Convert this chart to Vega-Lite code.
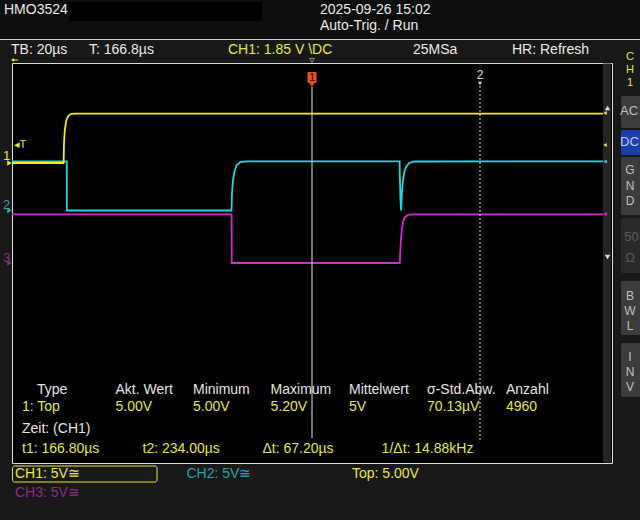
{
  "$schema": "https://vega.github.io/schema/vega-lite/v6.json",
  "width": 600,
  "height": 400,
  "autosize": {"type": "none"},
  "padding": {"left": 12, "top": 63, "right": 28, "bottom": 57},
  "background": "#181818",
  "config": {
    "view": {"fill": "#000000", "stroke": "#dcdcdc", "strokeWidth": 1},
    "axis": {"grid": true, "gridColor": "#343434", "gridWidth": 1, "labels": false, "ticks": false, "domain": false},
    "text": {"font": "Liberation Sans", "fontSize": 14, "baseline": "middle", "align": "left"}
  },
  "datasets": {
    "traces": [
      {"ch": "CH1", "t": 46.8, "v": 0},
      {"ch": "CH1", "t": 67.44, "v": 0},
      {"ch": "CH1", "t": 67.6, "v": 1.97},
      {"ch": "CH1", "t": 67.92, "v": 3.27},
      {"ch": "CH1", "t": 68.52, "v": 4.27},
      {"ch": "CH1", "t": 69.32, "v": 4.72},
      {"ch": "CH1", "t": 70.52, "v": 4.92},
      {"ch": "CH1", "t": 72.12, "v": 4.94},
      {"ch": "CH1", "t": 283.2, "v": 4.94},
      {"ch": "CH2", "t": 46.8, "v": 4.92},
      {"ch": "CH2", "t": 68.7, "v": 4.92},
      {"ch": "CH2", "t": 68.75, "v": 0},
      {"ch": "CH2", "t": 134.6, "v": 0},
      {"ch": "CH2", "t": 134.76, "v": 1.55},
      {"ch": "CH2", "t": 135.12, "v": 2.85},
      {"ch": "CH2", "t": 135.72, "v": 3.85},
      {"ch": "CH2", "t": 136.72, "v": 4.55},
      {"ch": "CH2", "t": 138.12, "v": 4.85},
      {"ch": "CH2", "t": 140.12, "v": 4.92},
      {"ch": "CH2", "t": 201.84, "v": 4.92},
      {"ch": "CH2", "t": 201.92, "v": 3.55},
      {"ch": "CH2", "t": 202.2, "v": 1.05},
      {"ch": "CH2", "t": 202.44, "v": 0},
      {"ch": "CH2", "t": 202.72, "v": 1.55},
      {"ch": "CH2", "t": 203.12, "v": 2.85},
      {"ch": "CH2", "t": 203.72, "v": 3.85},
      {"ch": "CH2", "t": 204.52, "v": 4.4},
      {"ch": "CH2", "t": 205.72, "v": 4.75},
      {"ch": "CH2", "t": 207.72, "v": 4.9},
      {"ch": "CH2", "t": 283.2, "v": 4.92},
      {"ch": "CH3", "t": 46.8, "v": 4.86},
      {"ch": "CH3", "t": 134.64, "v": 4.86},
      {"ch": "CH3", "t": 134.7, "v": 0},
      {"ch": "CH3", "t": 201.92, "v": 0},
      {"ch": "CH3", "t": 202.04, "v": 0.83},
      {"ch": "CH3", "t": 202.32, "v": 2.13},
      {"ch": "CH3", "t": 202.72, "v": 3.33},
      {"ch": "CH3", "t": 203.32, "v": 4.23},
      {"ch": "CH3", "t": 204.12, "v": 4.63},
      {"ch": "CH3", "t": 205.32, "v": 4.81},
      {"ch": "CH3", "t": 206.92, "v": 4.86},
      {"ch": "CH3", "t": 283.2, "v": 4.86}
    ]
  },
  "resolve": {"scale": {"y": "independent"}},
  "layer": [
    {
      "data": {"values": [{}]},
      "layer": [
        {"mark": {"type": "rect", "color": "#0e0e0e"}, "encoding": {"x": {"datum": 42.0, "scale": {"domain": [46.8, 286.8], "nice": false, "zero": false}, "axis": null}, "x2": {"datum": 298.0}, "y": {"datum": 5.26, "scale": {"domain": [-4, 4], "nice": false, "zero": false}, "axis": null}, "y2": {"datum": 4.48}}},
        {"mark": {"type": "rule", "color": "#d0d0d0", "strokeWidth": 1}, "encoding": {"x": {"datum": 42.0, "scale": {"domain": [46.8, 286.8], "nice": false, "zero": false}, "axis": null}, "x2": {"datum": 298.0}, "y": {"datum": 4.47, "scale": {"domain": [-4, 4], "nice": false, "zero": false}, "axis": null}}},
        {"mark": {"type": "rect", "color": "#000000"}, "encoding": {"x": {"datum": 69.6, "scale": {"domain": [46.8, 286.8], "nice": false, "zero": false}, "axis": null}, "x2": {"datum": 146.8}, "y": {"datum": 5.22, "scale": {"domain": [-4, 4], "nice": false, "zero": false}, "axis": null}, "y2": {"datum": 4.84}}},
        {"mark": {"type": "rect", "color": "#242424"}, "encoding": {"x": {"datum": 283.2, "scale": {"domain": [46.8, 286.8], "nice": false, "zero": false}, "axis": {"values": [66.8, 86.8, 106.8, 126.8, 146.8, 166.8, 186.8, 206.8, 226.8, 246.8, 266.8], "title": null}}, "x2": {"datum": 286.4}, "y": {"datum": 3.99, "scale": {"domain": [-4, 4], "nice": false, "zero": false}, "axis": {"values": [-3, -2, -1, 0, 1, 2, 3], "title": null}}, "y2": {"datum": -3.99}}},
        {"mark": {"type": "rect", "color": "#3c3c3c", "cornerRadius": 2}, "encoding": {"x": {"datum": 290.4, "scale": {"domain": [46.8, 286.8], "nice": false, "zero": false}, "axis": null}, "x2": {"datum": 300}, "y": {"datum": 3.34, "scale": {"domain": [-4, 4], "nice": false, "zero": false}, "axis": null}, "y2": {"datum": 2.7}}},
        {"mark": {"type": "rect", "color": "#1d3fae", "cornerRadius": 2}, "encoding": {"x": {"datum": 290.4, "scale": {"domain": [46.8, 286.8], "nice": false, "zero": false}, "axis": null}, "x2": {"datum": 300}, "y": {"datum": 2.66, "scale": {"domain": [-4, 4], "nice": false, "zero": false}, "axis": null}, "y2": {"datum": 2.16}}},
        {"mark": {"type": "rect", "color": "#3c3c3c", "cornerRadius": 2}, "encoding": {"x": {"datum": 290.4, "scale": {"domain": [46.8, 286.8], "nice": false, "zero": false}, "axis": null}, "x2": {"datum": 300}, "y": {"datum": 2.12, "scale": {"domain": [-4, 4], "nice": false, "zero": false}, "axis": null}, "y2": {"datum": 0.96}}},
        {"mark": {"type": "rect", "color": "#2a2a2a", "cornerRadius": 2}, "encoding": {"x": {"datum": 290.4, "scale": {"domain": [46.8, 286.8], "nice": false, "zero": false}, "axis": null}, "x2": {"datum": 300}, "y": {"datum": 0.9, "scale": {"domain": [-4, 4], "nice": false, "zero": false}, "axis": null}, "y2": {"datum": -0.2}}},
        {"mark": {"type": "rect", "color": "#3c3c3c", "cornerRadius": 2}, "encoding": {"x": {"datum": 290.4, "scale": {"domain": [46.8, 286.8], "nice": false, "zero": false}, "axis": null}, "x2": {"datum": 300}, "y": {"datum": -0.36, "scale": {"domain": [-4, 4], "nice": false, "zero": false}, "axis": null}, "y2": {"datum": -1.44}}},
        {"mark": {"type": "rect", "color": "#3c3c3c", "cornerRadius": 2}, "encoding": {"x": {"datum": 290.4, "scale": {"domain": [46.8, 286.8], "nice": false, "zero": false}, "axis": null}, "x2": {"datum": 300}, "y": {"datum": -1.6, "scale": {"domain": [-4, 4], "nice": false, "zero": false}, "axis": null}, "y2": {"datum": -2.68}}}
      ]
    },
    {"data": {"name": "traces"}, "transform": [{"filter": "datum.ch === 'CH3'"}], "mark": {"type": "line", "color": "#d22ad2", "strokeWidth": 1.8}, "encoding": {"x": {"field": "t", "type": "quantitative", "scale": {"domain": [46.8, 286.8], "nice": false, "zero": false}, "axis": null}, "y": {"field": "v", "type": "quantitative", "scale": {"domain": [-20, 20], "nice": false, "zero": false}, "axis": null}}},
    {"data": {"name": "traces"}, "transform": [{"filter": "datum.ch === 'CH2'"}], "mark": {"type": "line", "color": "#2ed2da", "strokeWidth": 1.8}, "encoding": {"x": {"field": "t", "type": "quantitative", "scale": {"domain": [46.8, 286.8], "nice": false, "zero": false}, "axis": null}, "y": {"field": "v", "type": "quantitative", "scale": {"domain": [-25.25, 14.75], "nice": false, "zero": false}, "axis": null}}},
    {"data": {"name": "traces"}, "transform": [{"filter": "datum.ch === 'CH1'"}], "mark": {"type": "line", "color": "#ecec2a", "strokeWidth": 1.8}, "encoding": {"x": {"field": "t", "type": "quantitative", "scale": {"domain": [46.8, 286.8], "nice": false, "zero": false}, "axis": null}, "y": {"field": "v", "type": "quantitative", "scale": {"domain": [-30, 10], "nice": false, "zero": false}, "axis": null}}},
    {
      "data": {"values": [{}]},
      "layer": [
        {"mark": {"type": "rule", "color": "#e8e8e8", "strokeWidth": 1}, "encoding": {"x": {"datum": 166.8, "scale": {"domain": [46.8, 286.8], "nice": false, "zero": false}, "axis": null}, "y": {"datum": 3.52, "scale": {"domain": [-4, 4], "nice": false, "zero": false}, "axis": null}, "y2": {"datum": -3.5}}},
        {"mark": {"type": "rule", "color": "#e8e8e8", "strokeWidth": 1, "strokeDash": [2, 2]}, "encoding": {"x": {"datum": 234.0, "scale": {"domain": [46.8, 286.8], "nice": false, "zero": false}, "axis": null}, "y": {"datum": 3.54, "scale": {"domain": [-4, 4], "nice": false, "zero": false}, "axis": null}, "y2": {"datum": -3.54}}},
        {"mark": {"type": "rect", "color": "#e8521e", "cornerRadius": 1}, "encoding": {"x": {"datum": 165.0, "scale": {"domain": [46.8, 286.8], "nice": false, "zero": false}, "axis": null}, "x2": {"datum": 168.6}, "y": {"datum": 3.82, "scale": {"domain": [-4, 4], "nice": false, "zero": false}, "axis": null}, "y2": {"datum": 3.6}}},
        {"mark": {"type": "point", "shape": "triangle-down", "filled": true, "color": "#e8521e", "size": 40, "opacity": 1}, "encoding": {"x": {"datum": 166.8, "scale": {"domain": [46.8, 286.8], "nice": false, "zero": false}, "axis": null}, "y": {"datum": 3.57, "scale": {"domain": [-4, 4], "nice": false, "zero": false}, "axis": null}}},
        {"mark": {"type": "text", "color": "#2a0800", "fontSize": 11, "align": "center"}, "encoding": {"x": {"datum": 166.8, "scale": {"domain": [46.8, 286.8], "nice": false, "zero": false}, "axis": null}, "y": {"datum": 3.71, "scale": {"domain": [-4, 4], "nice": false, "zero": false}, "axis": null}, "text": {"value": "1"}}},
        {"mark": {"type": "text", "color": "#e0e0e0", "fontSize": 12, "align": "center"}, "encoding": {"x": {"datum": 234.0, "scale": {"domain": [46.8, 286.8], "nice": false, "zero": false}, "axis": null}, "y": {"datum": 3.76, "scale": {"domain": [-4, 4], "nice": false, "zero": false}, "axis": null}, "text": {"value": "2"}}},
        {"mark": {"type": "point", "shape": "triangle-down", "filled": true, "color": "#e0e0e0", "size": 18, "opacity": 1}, "encoding": {"x": {"datum": 234.0, "scale": {"domain": [46.8, 286.8], "nice": false, "zero": false}, "axis": null}, "y": {"datum": 3.59, "scale": {"domain": [-4, 4], "nice": false, "zero": false}, "axis": null}}},
        {"mark": {"type": "point", "shape": "triangle-down", "filled": false, "color": "#8a8a8a", "size": 22, "opacity": 1, "strokeWidth": 1}, "encoding": {"x": {"datum": 166.8, "scale": {"domain": [46.8, 286.8], "nice": false, "zero": false}, "axis": null}, "y": {"datum": 4.05, "scale": {"domain": [-4, 4], "nice": false, "zero": false}, "axis": null}}},
        {"mark": {"type": "point", "shape": "triangle-left", "filled": true, "color": "#e6e645", "size": 14, "opacity": 1}, "encoding": {"x": {"datum": 47.0, "scale": {"domain": [46.8, 286.8], "nice": false, "zero": false}, "axis": null}, "y": {"datum": 4.06, "scale": {"domain": [-4, 4], "nice": false, "zero": false}, "axis": null}}},
        {"mark": {"type": "rule", "color": "#e6e645", "strokeWidth": 1}, "encoding": {"x": {"datum": 47.0, "scale": {"domain": [46.8, 286.8], "nice": false, "zero": false}, "axis": null}, "x2": {"datum": 49.2}, "y": {"datum": 4.06, "scale": {"domain": [-4, 4], "nice": false, "zero": false}, "axis": null}}},
        {"mark": {"type": "text", "color": "#e6e645", "fontSize": 11}, "encoding": {"x": {"datum": 47.4, "scale": {"domain": [46.8, 286.8], "nice": false, "zero": false}, "axis": null}, "y": {"datum": 2.36, "scale": {"domain": [-4, 4], "nice": false, "zero": false}, "axis": null}, "text": {"value": "◂T"}}},
        {"mark": {"type": "text", "color": "#e6e645", "fontSize": 13, "align": "center"}, "encoding": {"x": {"datum": 44.6, "scale": {"domain": [46.8, 286.8], "nice": false, "zero": false}, "axis": null}, "y": {"datum": 2.14, "scale": {"domain": [-4, 4], "nice": false, "zero": false}, "axis": null}, "text": {"value": "1"}}},
        {"mark": {"type": "point", "shape": "triangle-right", "filled": true, "color": "#e6e645", "size": 28, "opacity": 1}, "encoding": {"x": {"datum": 45.8, "scale": {"domain": [46.8, 286.8], "nice": false, "zero": false}, "axis": null}, "y": {"datum": 2.0, "scale": {"domain": [-4, 4], "nice": false, "zero": false}, "axis": null}}},
        {"mark": {"type": "text", "color": "#2ba3a8", "fontSize": 13, "align": "center"}, "encoding": {"x": {"datum": 44.6, "scale": {"domain": [46.8, 286.8], "nice": false, "zero": false}, "axis": null}, "y": {"datum": 1.16, "scale": {"domain": [-4, 4], "nice": false, "zero": false}, "axis": null}, "text": {"value": "2"}}},
        {"mark": {"type": "point", "shape": "triangle-right", "filled": true, "color": "#2ba3a8", "size": 28, "opacity": 1}, "encoding": {"x": {"datum": 45.8, "scale": {"domain": [46.8, 286.8], "nice": false, "zero": false}, "axis": null}, "y": {"datum": 1.05, "scale": {"domain": [-4, 4], "nice": false, "zero": false}, "axis": null}}},
        {"mark": {"type": "text", "color": "#8d2b8d", "fontSize": 13, "align": "center"}, "encoding": {"x": {"datum": 44.6, "scale": {"domain": [46.8, 286.8], "nice": false, "zero": false}, "axis": null}, "y": {"datum": 0.1, "scale": {"domain": [-4, 4], "nice": false, "zero": false}, "axis": null}, "text": {"value": "3"}}},
        {"mark": {"type": "point", "shape": "triangle-right", "filled": true, "color": "#8d2b8d", "size": 28, "opacity": 1}, "encoding": {"x": {"datum": 45.8, "scale": {"domain": [46.8, 286.8], "nice": false, "zero": false}, "axis": null}, "y": {"datum": 0.0, "scale": {"domain": [-4, 4], "nice": false, "zero": false}, "axis": null}}},
        {"mark": {"type": "point", "shape": "triangle-up", "filled": true, "color": "#dddddd", "size": 30, "opacity": 1}, "encoding": {"x": {"datum": 285.0, "scale": {"domain": [46.8, 286.8], "nice": false, "zero": false}, "axis": null}, "y": {"datum": 3.1, "scale": {"domain": [-4, 4], "nice": false, "zero": false}, "axis": null}}},
        {"mark": {"type": "point", "shape": "triangle-down", "filled": true, "color": "#dddddd", "size": 30, "opacity": 1}, "encoding": {"x": {"datum": 285.0, "scale": {"domain": [46.8, 286.8], "nice": false, "zero": false}, "axis": null}, "y": {"datum": 0.12, "scale": {"domain": [-4, 4], "nice": false, "zero": false}, "axis": null}}},
        {"mark": {"type": "point", "shape": "triangle-left", "filled": true, "color": "#e6e645", "size": 16, "opacity": 1}, "encoding": {"x": {"datum": 284.0, "scale": {"domain": [46.8, 286.8], "nice": false, "zero": false}, "axis": null}, "y": {"datum": 3.0, "scale": {"domain": [-4, 4], "nice": false, "zero": false}, "axis": null}}},
        {"mark": {"type": "point", "shape": "triangle-left", "filled": true, "color": "#e6e645", "size": 16, "opacity": 1}, "encoding": {"x": {"datum": 284.0, "scale": {"domain": [46.8, 286.8], "nice": false, "zero": false}, "axis": null}, "y": {"datum": 2.36, "scale": {"domain": [-4, 4], "nice": false, "zero": false}, "axis": null}}},
        {"mark": {"type": "point", "shape": "triangle-left", "filled": true, "color": "#2ed2da", "size": 16, "opacity": 1}, "encoding": {"x": {"datum": 284.0, "scale": {"domain": [46.8, 286.8], "nice": false, "zero": false}, "axis": null}, "y": {"datum": 2.03, "scale": {"domain": [-4, 4], "nice": false, "zero": false}, "axis": null}}},
        {"mark": {"type": "point", "shape": "triangle-left", "filled": true, "color": "#d22ad2", "size": 16, "opacity": 1}, "encoding": {"x": {"datum": 284.0, "scale": {"domain": [46.8, 286.8], "nice": false, "zero": false}, "axis": null}, "y": {"datum": 0.98, "scale": {"domain": [-4, 4], "nice": false, "zero": false}, "axis": null}}},

        {"mark": {"type": "text", "color": "#e8e8e8"}, "encoding": {"x": {"datum": 43.6, "scale": {"domain": [46.8, 286.8], "nice": false, "zero": false}, "axis": null}, "y": {"datum": 5.06, "scale": {"domain": [-4, 4], "nice": false, "zero": false}, "axis": null}, "text": {"value": "HMO3524"}}},
        {"mark": {"type": "text", "color": "#e8e8e8"}, "encoding": {"x": {"datum": 170.0, "scale": {"domain": [46.8, 286.8], "nice": false, "zero": false}, "axis": null}, "y": {"datum": 5.06, "scale": {"domain": [-4, 4], "nice": false, "zero": false}, "axis": null}, "text": {"value": "2025-09-26 15:02"}}},
        {"mark": {"type": "text", "color": "#e8e8e8"}, "encoding": {"x": {"datum": 170.0, "scale": {"domain": [46.8, 286.8], "nice": false, "zero": false}, "axis": null}, "y": {"datum": 4.74, "scale": {"domain": [-4, 4], "nice": false, "zero": false}, "axis": null}, "text": {"value": "Auto-Trig. / Run"}}},
        {"mark": {"type": "text", "color": "#e8e8e8"}, "encoding": {"x": {"datum": 46.4, "scale": {"domain": [46.8, 286.8], "nice": false, "zero": false}, "axis": null}, "y": {"datum": 4.26, "scale": {"domain": [-4, 4], "nice": false, "zero": false}, "axis": null}, "text": {"value": "TB: 20µs"}}},
        {"mark": {"type": "text", "color": "#e8e8e8"}, "encoding": {"x": {"datum": 77.6, "scale": {"domain": [46.8, 286.8], "nice": false, "zero": false}, "axis": null}, "y": {"datum": 4.26, "scale": {"domain": [-4, 4], "nice": false, "zero": false}, "axis": null}, "text": {"value": "T: 166.8µs"}}},
        {"mark": {"type": "text", "color": "#e6e645"}, "encoding": {"x": {"datum": 133.2, "scale": {"domain": [46.8, 286.8], "nice": false, "zero": false}, "axis": null}, "y": {"datum": 4.26, "scale": {"domain": [-4, 4], "nice": false, "zero": false}, "axis": null}, "text": {"value": "CH1: 1.85 V \\DC"}}},
        {"mark": {"type": "text", "color": "#e8e8e8"}, "encoding": {"x": {"datum": 207.2, "scale": {"domain": [46.8, 286.8], "nice": false, "zero": false}, "axis": null}, "y": {"datum": 4.26, "scale": {"domain": [-4, 4], "nice": false, "zero": false}, "axis": null}, "text": {"value": "25MSa"}}},
        {"mark": {"type": "text", "color": "#e8e8e8"}, "encoding": {"x": {"datum": 246.8, "scale": {"domain": [46.8, 286.8], "nice": false, "zero": false}, "axis": null}, "y": {"datum": 4.26, "scale": {"domain": [-4, 4], "nice": false, "zero": false}, "axis": null}, "text": {"value": "HR: Refresh"}}},
        {"mark": {"type": "text", "color": "#e6e645", "align": "center", "fontSize": 11}, "encoding": {"x": {"datum": 294.0, "scale": {"domain": [46.8, 286.8], "nice": false, "zero": false}, "axis": null}, "y": {"datum": 4.12, "scale": {"domain": [-4, 4], "nice": false, "zero": false}, "axis": null}, "text": {"value": "C"}}},
        {"mark": {"type": "text", "color": "#e6e645", "align": "center", "fontSize": 11}, "encoding": {"x": {"datum": 294.0, "scale": {"domain": [46.8, 286.8], "nice": false, "zero": false}, "axis": null}, "y": {"datum": 3.86, "scale": {"domain": [-4, 4], "nice": false, "zero": false}, "axis": null}, "text": {"value": "H"}}},
        {"mark": {"type": "text", "color": "#e6e645", "align": "center", "fontSize": 11}, "encoding": {"x": {"datum": 294.0, "scale": {"domain": [46.8, 286.8], "nice": false, "zero": false}, "axis": null}, "y": {"datum": 3.6, "scale": {"domain": [-4, 4], "nice": false, "zero": false}, "axis": null}, "text": {"value": "1"}}},
        {"mark": {"type": "text", "color": "#c0c0c0", "fontSize": 13}, "encoding": {"x": {"datum": 290.0, "scale": {"domain": [46.8, 286.8], "nice": false, "zero": false}, "axis": null}, "y": {"datum": 3.04, "scale": {"domain": [-4, 4], "nice": false, "zero": false}, "axis": null}, "text": {"value": "AC"}}},
        {"mark": {"type": "text", "color": "#b8ccff", "fontSize": 13}, "encoding": {"x": {"datum": 290.0, "scale": {"domain": [46.8, 286.8], "nice": false, "zero": false}, "axis": null}, "y": {"datum": 2.42, "scale": {"domain": [-4, 4], "nice": false, "zero": false}, "axis": null}, "text": {"value": "DC"}}},
        {"mark": {"type": "text", "color": "#c0c0c0", "align": "center", "fontSize": 12}, "encoding": {"x": {"datum": 294.0, "scale": {"domain": [46.8, 286.8], "nice": false, "zero": false}, "axis": null}, "y": {"datum": 1.86, "scale": {"domain": [-4, 4], "nice": false, "zero": false}, "axis": null}, "text": {"value": "G"}}},
        {"mark": {"type": "text", "color": "#c0c0c0", "align": "center", "fontSize": 12}, "encoding": {"x": {"datum": 294.0, "scale": {"domain": [46.8, 286.8], "nice": false, "zero": false}, "axis": null}, "y": {"datum": 1.54, "scale": {"domain": [-4, 4], "nice": false, "zero": false}, "axis": null}, "text": {"value": "N"}}},
        {"mark": {"type": "text", "color": "#c0c0c0", "align": "center", "fontSize": 12}, "encoding": {"x": {"datum": 294.0, "scale": {"domain": [46.8, 286.8], "nice": false, "zero": false}, "axis": null}, "y": {"datum": 1.24, "scale": {"domain": [-4, 4], "nice": false, "zero": false}, "axis": null}, "text": {"value": "D"}}},
        {"mark": {"type": "text", "color": "#5a5a5a", "align": "center", "fontSize": 13}, "encoding": {"x": {"datum": 294.6, "scale": {"domain": [46.8, 286.8], "nice": false, "zero": false}, "axis": null}, "y": {"datum": 0.52, "scale": {"domain": [-4, 4], "nice": false, "zero": false}, "axis": null}, "text": {"value": "50"}}},
        {"mark": {"type": "text", "color": "#5a5a5a", "align": "center", "fontSize": 13}, "encoding": {"x": {"datum": 294.0, "scale": {"domain": [46.8, 286.8], "nice": false, "zero": false}, "axis": null}, "y": {"datum": 0.1, "scale": {"domain": [-4, 4], "nice": false, "zero": false}, "axis": null}, "text": {"value": "Ω"}}},
        {"mark": {"type": "text", "color": "#c0c0c0", "align": "center", "fontSize": 12}, "encoding": {"x": {"datum": 294.0, "scale": {"domain": [46.8, 286.8], "nice": false, "zero": false}, "axis": null}, "y": {"datum": -0.66, "scale": {"domain": [-4, 4], "nice": false, "zero": false}, "axis": null}, "text": {"value": "B"}}},
        {"mark": {"type": "text", "color": "#c0c0c0", "align": "center", "fontSize": 12}, "encoding": {"x": {"datum": 294.0, "scale": {"domain": [46.8, 286.8], "nice": false, "zero": false}, "axis": null}, "y": {"datum": -0.96, "scale": {"domain": [-4, 4], "nice": false, "zero": false}, "axis": null}, "text": {"value": "W"}}},
        {"mark": {"type": "text", "color": "#c0c0c0", "align": "center", "fontSize": 12}, "encoding": {"x": {"datum": 294.0, "scale": {"domain": [46.8, 286.8], "nice": false, "zero": false}, "axis": null}, "y": {"datum": -1.26, "scale": {"domain": [-4, 4], "nice": false, "zero": false}, "axis": null}, "text": {"value": "L"}}},
        {"mark": {"type": "text", "color": "#c0c0c0", "align": "center", "fontSize": 12}, "encoding": {"x": {"datum": 294.0, "scale": {"domain": [46.8, 286.8], "nice": false, "zero": false}, "axis": null}, "y": {"datum": -1.88, "scale": {"domain": [-4, 4], "nice": false, "zero": false}, "axis": null}, "text": {"value": "I"}}},
        {"mark": {"type": "text", "color": "#c0c0c0", "align": "center", "fontSize": 12}, "encoding": {"x": {"datum": 294.0, "scale": {"domain": [46.8, 286.8], "nice": false, "zero": false}, "axis": null}, "y": {"datum": -2.18, "scale": {"domain": [-4, 4], "nice": false, "zero": false}, "axis": null}, "text": {"value": "N"}}},
        {"mark": {"type": "text", "color": "#c0c0c0", "align": "center", "fontSize": 12}, "encoding": {"x": {"datum": 294.0, "scale": {"domain": [46.8, 286.8], "nice": false, "zero": false}, "axis": null}, "y": {"datum": -2.48, "scale": {"domain": [-4, 4], "nice": false, "zero": false}, "axis": null}, "text": {"value": "V"}}},

        {"mark": {"type": "text", "color": "#e4e4e4"}, "encoding": {"x": {"datum": 56.8, "scale": {"domain": [46.8, 286.8], "nice": false, "zero": false}, "axis": null}, "y": {"datum": -2.54, "scale": {"domain": [-4, 4], "nice": false, "zero": false}, "axis": null}, "text": {"value": "Type"}}},
        {"mark": {"type": "text", "color": "#e4e4e4"}, "encoding": {"x": {"datum": 88.2, "scale": {"domain": [46.8, 286.8], "nice": false, "zero": false}, "axis": null}, "y": {"datum": -2.54, "scale": {"domain": [-4, 4], "nice": false, "zero": false}, "axis": null}, "text": {"value": "Akt. Wert"}}},
        {"mark": {"type": "text", "color": "#e4e4e4"}, "encoding": {"x": {"datum": 119.2, "scale": {"domain": [46.8, 286.8], "nice": false, "zero": false}, "axis": null}, "y": {"datum": -2.54, "scale": {"domain": [-4, 4], "nice": false, "zero": false}, "axis": null}, "text": {"value": "Minimum"}}},
        {"mark": {"type": "text", "color": "#e4e4e4"}, "encoding": {"x": {"datum": 150.24, "scale": {"domain": [46.8, 286.8], "nice": false, "zero": false}, "axis": null}, "y": {"datum": -2.54, "scale": {"domain": [-4, 4], "nice": false, "zero": false}, "axis": null}, "text": {"value": "Maximum"}}},
        {"mark": {"type": "text", "color": "#e4e4e4"}, "encoding": {"x": {"datum": 181.6, "scale": {"domain": [46.8, 286.8], "nice": false, "zero": false}, "axis": null}, "y": {"datum": -2.54, "scale": {"domain": [-4, 4], "nice": false, "zero": false}, "axis": null}, "text": {"value": "Mittelwert"}}},
        {"mark": {"type": "text", "color": "#e4e4e4"}, "encoding": {"x": {"datum": 212.8, "scale": {"domain": [46.8, 286.8], "nice": false, "zero": false}, "axis": null}, "y": {"datum": -2.54, "scale": {"domain": [-4, 4], "nice": false, "zero": false}, "axis": null}, "text": {"value": "σ-Std.Abw."}}},
        {"mark": {"type": "text", "color": "#e4e4e4"}, "encoding": {"x": {"datum": 244.4, "scale": {"domain": [46.8, 286.8], "nice": false, "zero": false}, "axis": null}, "y": {"datum": -2.54, "scale": {"domain": [-4, 4], "nice": false, "zero": false}, "axis": null}, "text": {"value": "Anzahl"}}},
        {"mark": {"type": "text", "color": "#e6e645"}, "encoding": {"x": {"datum": 50.8, "scale": {"domain": [46.8, 286.8], "nice": false, "zero": false}, "axis": null}, "y": {"datum": -2.88, "scale": {"domain": [-4, 4], "nice": false, "zero": false}, "axis": null}, "text": {"value": "1: Top"}}},
        {"mark": {"type": "text", "color": "#e6e645"}, "encoding": {"x": {"datum": 88.2, "scale": {"domain": [46.8, 286.8], "nice": false, "zero": false}, "axis": null}, "y": {"datum": -2.88, "scale": {"domain": [-4, 4], "nice": false, "zero": false}, "axis": null}, "text": {"value": "5.00V"}}},
        {"mark": {"type": "text", "color": "#e6e645"}, "encoding": {"x": {"datum": 119.2, "scale": {"domain": [46.8, 286.8], "nice": false, "zero": false}, "axis": null}, "y": {"datum": -2.88, "scale": {"domain": [-4, 4], "nice": false, "zero": false}, "axis": null}, "text": {"value": "5.00V"}}},
        {"mark": {"type": "text", "color": "#e6e645"}, "encoding": {"x": {"datum": 150.24, "scale": {"domain": [46.8, 286.8], "nice": false, "zero": false}, "axis": null}, "y": {"datum": -2.88, "scale": {"domain": [-4, 4], "nice": false, "zero": false}, "axis": null}, "text": {"value": "5.20V"}}},
        {"mark": {"type": "text", "color": "#e6e645"}, "encoding": {"x": {"datum": 181.6, "scale": {"domain": [46.8, 286.8], "nice": false, "zero": false}, "axis": null}, "y": {"datum": -2.88, "scale": {"domain": [-4, 4], "nice": false, "zero": false}, "axis": null}, "text": {"value": "5V"}}},
        {"mark": {"type": "text", "color": "#e6e645"}, "encoding": {"x": {"datum": 212.8, "scale": {"domain": [46.8, 286.8], "nice": false, "zero": false}, "axis": null}, "y": {"datum": -2.88, "scale": {"domain": [-4, 4], "nice": false, "zero": false}, "axis": null}, "text": {"value": "70.13µV"}}},
        {"mark": {"type": "text", "color": "#e6e645"}, "encoding": {"x": {"datum": 244.4, "scale": {"domain": [46.8, 286.8], "nice": false, "zero": false}, "axis": null}, "y": {"datum": -2.88, "scale": {"domain": [-4, 4], "nice": false, "zero": false}, "axis": null}, "text": {"value": "4960"}}},
        {"mark": {"type": "text", "color": "#e4e4e4"}, "encoding": {"x": {"datum": 50.8, "scale": {"domain": [46.8, 286.8], "nice": false, "zero": false}, "axis": null}, "y": {"datum": -3.32, "scale": {"domain": [-4, 4], "nice": false, "zero": false}, "axis": null}, "text": {"value": "Zeit: (CH1)"}}},
        {"mark": {"type": "text", "color": "#e6e645"}, "encoding": {"x": {"datum": 50.8, "scale": {"domain": [46.8, 286.8], "nice": false, "zero": false}, "axis": null}, "y": {"datum": -3.72, "scale": {"domain": [-4, 4], "nice": false, "zero": false}, "axis": null}, "text": {"value": "t1: 166.80µs"}}},
        {"mark": {"type": "text", "color": "#e6e645"}, "encoding": {"x": {"datum": 99.0, "scale": {"domain": [46.8, 286.8], "nice": false, "zero": false}, "axis": null}, "y": {"datum": -3.72, "scale": {"domain": [-4, 4], "nice": false, "zero": false}, "axis": null}, "text": {"value": "t2: 234.00µs"}}},
        {"mark": {"type": "text", "color": "#e6e645"}, "encoding": {"x": {"datum": 146.96, "scale": {"domain": [46.8, 286.8], "nice": false, "zero": false}, "axis": null}, "y": {"datum": -3.72, "scale": {"domain": [-4, 4], "nice": false, "zero": false}, "axis": null}, "text": {"value": "Δt: 67.20µs"}}},
        {"mark": {"type": "text", "color": "#e6e645"}, "encoding": {"x": {"datum": 194.64, "scale": {"domain": [46.8, 286.8], "nice": false, "zero": false}, "axis": null}, "y": {"datum": -3.72, "scale": {"domain": [-4, 4], "nice": false, "zero": false}, "axis": null}, "text": {"value": "1/Δt: 14.88kHz"}}},

        {"mark": {"type": "rect", "fill": null, "stroke": "#e6e645", "strokeWidth": 1, "cornerRadius": 2}, "encoding": {"x": {"datum": 47.0, "scale": {"domain": [46.8, 286.8], "nice": false, "zero": false}, "axis": null}, "x2": {"datum": 104.8}, "y": {"datum": -4.06, "scale": {"domain": [-4, 4], "nice": false, "zero": false}, "axis": null}, "y2": {"datum": -4.38}}},
        {"mark": {"type": "text", "color": "#e6e645"}, "encoding": {"x": {"datum": 48.0, "scale": {"domain": [46.8, 286.8], "nice": false, "zero": false}, "axis": null}, "y": {"datum": -4.22, "scale": {"domain": [-4, 4], "nice": false, "zero": false}, "axis": null}, "text": {"value": "CH1: 5V≅"}}},
        {"mark": {"type": "text", "color": "#2ba3a8"}, "encoding": {"x": {"datum": 116.6, "scale": {"domain": [46.8, 286.8], "nice": false, "zero": false}, "axis": null}, "y": {"datum": -4.22, "scale": {"domain": [-4, 4], "nice": false, "zero": false}, "axis": null}, "text": {"value": "CH2: 5V≅"}}},
        {"mark": {"type": "text", "color": "#e6e645"}, "encoding": {"x": {"datum": 182.8, "scale": {"domain": [46.8, 286.8], "nice": false, "zero": false}, "axis": null}, "y": {"datum": -4.22, "scale": {"domain": [-4, 4], "nice": false, "zero": false}, "axis": null}, "text": {"value": "Top: 5.00V"}}},
        {"mark": {"type": "text", "color": "#8d2b8d"}, "encoding": {"x": {"datum": 48.0, "scale": {"domain": [46.8, 286.8], "nice": false, "zero": false}, "axis": null}, "y": {"datum": -4.6, "scale": {"domain": [-4, 4], "nice": false, "zero": false}, "axis": null}, "text": {"value": "CH3: 5V≅"}}}
      ]
    }
  ]
}
